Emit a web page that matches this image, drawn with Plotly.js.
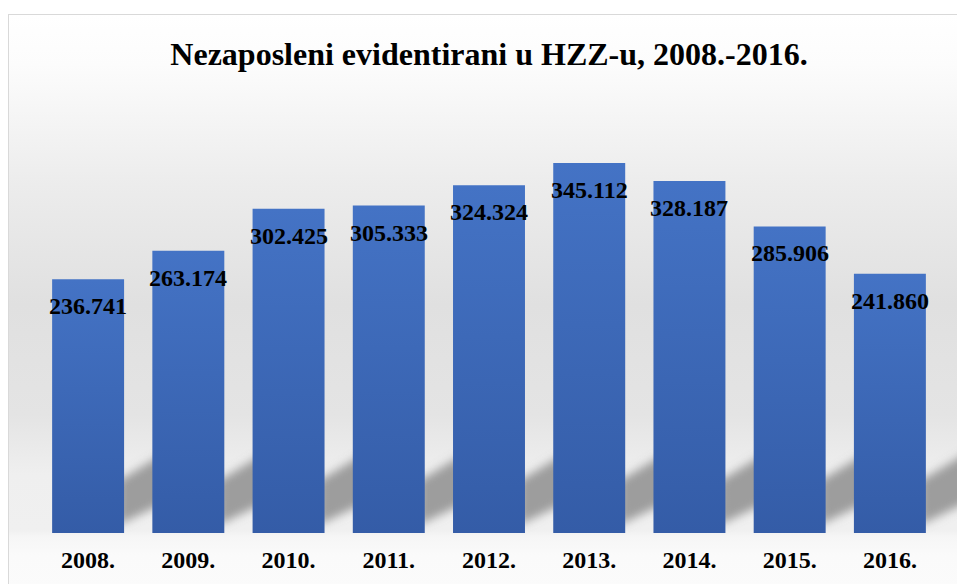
<!DOCTYPE html>
<html>
<head>
<meta charset="utf-8">
<script src="https://cdn.plot.ly/plotly-3.0.1.min.js"></script>
<style>
  html, body { margin:0; padding:0; background:#ffffff; width:957px; height:584px; overflow:hidden; }
  #bg { position:absolute; left:8px; top:14px; width:1000px; height:620px; border:1px solid #d9d9d9;
        background: linear-gradient(to bottom, #ffffff 0px, #fcfcfc 50px, #ececec 170px, #e0e0e0 290px, #e4e4e4 400px, #efefef 460px, #f0f0f0 515px, #f6f6f6 522px, #fafafa 540px, #fcfcfc 620px); }
  #chart { position:absolute; left:0; top:0; width:957px; height:584px; }
</style>
</head>
<body>
<div id="bg"></div>
<div id="chart"></div>
<script>
const years = ['2008.', '2009.', '2010.', '2011.', '2012.', '2013.', '2014.', '2015.', '2016.'];
const unemployed = [236741, 263174, 302425, 305333, 324324, 345112, 328187, 285906, 241860];
const valueLabels = unemployed.map(v => (v / 1000).toFixed(3));
const chartTitle = 'Nezaposleni evidentirani u HZZ-u, 2008.-2016.';

const yMax = 360000;
const plotTop = 147, plotBottom = 533;
const unitsPerPx = yMax / (plotBottom - plotTop);
const n = years.length;

// decorative soft shadows cast to the right of each bar base (positions in the x-domain fraction)
const shadows = years.map((c, i) => {
  const fx = (u) => ((i + 0.5 + u) / n).toFixed(5);
  const p = (px) => (px * unitsPerPx).toFixed(0);
  return {
    type: 'path', layer: 'below', xref: 'x domain', yref: 'y',
    path: `M ${fx(0.30)} ${p(52)} L ${fx(0.80)} ${p(82)} L ${fx(0.80)} ${p(32)} L ${fx(0.30)} ${p(8)} Z`,
    fillcolor: 'rgba(130,130,130,0.75)', line: { width: 0 }
  };
});

const annotations = years.map((c, i) => ({
  x: i, y: unemployed[i], xref: 'x', yref: 'y', text: '<b>' + valueLabels[i] + '</b>',
  showarrow: false, yanchor: 'middle', xanchor: 'center', yshift: -27,
  font: { family: 'Liberation Serif, Times New Roman, serif', size: 24, color: '#000000' }
}));

const trace = {
  type: 'bar', x: years, y: unemployed,
  marker: { color: '#4472C4', line: { width: 0 } },
  hoverinfo: 'none', textposition: 'none'
};

const layout = {
  width: 957, height: 584,
  margin: { l: 38, r: 17, t: plotTop, b: 584 - plotBottom, pad: 0 },
  paper_bgcolor: 'rgba(0,0,0,0)', plot_bgcolor: 'rgba(0,0,0,0)',
  bargap: 0.282,
  showlegend: false,
  title: {
    text: '<b>' + chartTitle + '</b>',
    font: { family: 'Liberation Serif, Times New Roman, serif', size: 32, color: '#000000' },
    x: 0.5, xref: 'paper', xanchor: 'center',
    y: 1 - 54 / 584, yref: 'container', yanchor: 'middle'
  },
  xaxis: {
    type: 'category', range: [-0.5, n - 0.5], showgrid: false, zeroline: false, showline: false, ticks: '',
    tickfont: { family: 'Liberation Serif, Times New Roman, serif', size: 24, color: '#000000', weight: 'bold' },
    ticklabelstandoff: 10
  },
  yaxis: { range: [0, yMax], visible: false, showgrid: false, zeroline: false },
  shapes: shadows,
  annotations: annotations
};

Plotly.newPlot('chart', [trace], layout, { staticPlot: true, displayModeBar: false }).then(gd => {
  const svg = gd.querySelector('svg.main-svg');
  const ns = 'http://www.w3.org/2000/svg';
  let defs = svg.querySelector('defs');
  if (!defs) { defs = document.createElementNS(ns, 'defs'); svg.insertBefore(defs, svg.firstChild); }
  const grad = document.createElementNS(ns, 'linearGradient');
  grad.setAttribute('id', 'barGrad');
  grad.setAttribute('x1', '0'); grad.setAttribute('y1', '0'); grad.setAttribute('x2', '0'); grad.setAttribute('y2', '1');
  [['0%', '#4473C5'], ['100%', '#345CA7']].forEach(([o, c]) => {
    const s = document.createElementNS(ns, 'stop');
    s.setAttribute('offset', o); s.setAttribute('stop-color', c);
    grad.appendChild(s);
  });
  defs.appendChild(grad);
  const filt = document.createElementNS(ns, 'filter');
  filt.setAttribute('id', 'softShadow');
  filt.setAttribute('x', '-50%'); filt.setAttribute('y', '-50%');
  filt.setAttribute('width', '200%'); filt.setAttribute('height', '200%');
  const blur = document.createElementNS(ns, 'feGaussianBlur');
  blur.setAttribute('stdDeviation', '5');
  filt.appendChild(blur);
  defs.appendChild(filt);
  gd.querySelectorAll('.bars .point path').forEach(p => { p.style.fill = 'url(#barGrad)'; });
  gd.querySelectorAll('.shapelayer path').forEach(p => { p.style.filter = 'url(#softShadow)'; });
});
</script>
</body>
</html>
